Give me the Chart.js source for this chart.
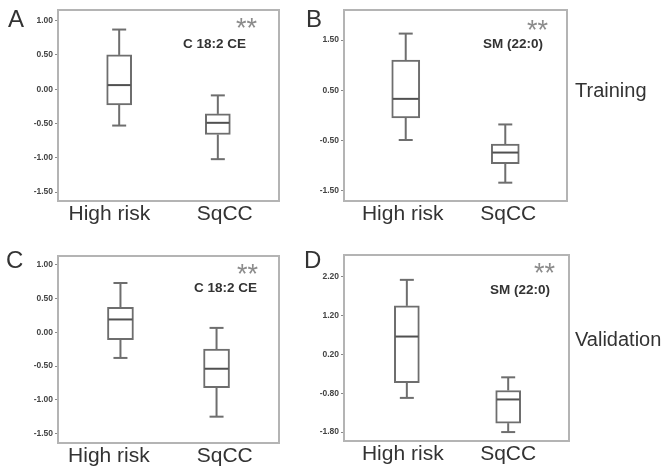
<!DOCTYPE html>
<html><head><meta charset="utf-8">
<script src="https://cdn.jsdelivr.net/npm/chart.js@4.4.1/dist/chart.umd.min.js"></script>
<style>
html,body{margin:0;padding:0;background:#fff;}
#wrap{position:relative;width:665px;height:468px;overflow:hidden;font-family:"Liberation Sans",Arial,sans-serif;}
canvas{position:absolute;left:0;top:0;}
.t{position:absolute;white-space:nowrap;line-height:1;color:#333;}
.let{font-size:24px;}
.grp{font-size:20px;}
.lab{font-size:13.5px;font-weight:bold;color:#333;}
.sig{font-size:27px;color:#8c8c8c;}
</style></head><body>
<div id="wrap">
<canvas id="cA" width="665" height="468"></canvas>
<canvas id="cB" width="665" height="468"></canvas>
<canvas id="cC" width="665" height="468"></canvas>
<canvas id="cD" width="665" height="468"></canvas>
<div class="t let" style="left:8px;top:7px">A</div>
<div class="t let" style="left:306px;top:7px">B</div>
<div class="t let" style="left:6px;top:248px">C</div>
<div class="t let" style="left:304px;top:248px">D</div>
<div class="t grp" style="left:575px;top:80px">Training</div>
<div class="t grp" style="left:575px;top:329px">Validation</div>
<div class="t lab" style="left:183px;top:37px">C 18:2 CE</div>
<div class="t lab" style="left:483px;top:37px">SM (22:0)</div>
<div class="t lab" style="left:194px;top:281px">C 18:2 CE</div>
<div class="t lab" style="left:490px;top:283px">SM (22:0)</div>
<div class="t sig" style="left:236px;top:15px">**</div>
<div class="t sig" style="left:527px;top:17px">**</div>
<div class="t sig" style="left:237px;top:261px">**</div>
<div class="t sig" style="left:534px;top:260px">**</div>
</div>
<script>
// ---- data ----
const categories = ['High risk', 'SqCC'];

// Panel A (Training, C 18:2 CE)
const aMin = [-0.53, -1.02];
const aQ1  = [-0.23, -0.66];
const aMed = [0.06, -0.49];
const aQ3  = [0.50, -0.36];
const aMax = [0.87, -0.09];
const aTicks = [1.00, 0.50, 0.00, -0.50, -1.00, -1.50];

// Panel B (Training, SM (22:0))
const bMin = [-0.49, -1.34];
const bQ1  = [-0.05, -0.96];
const bMed = [0.33, -0.74];
const bQ3  = [1.10, -0.57];
const bMax = [1.63, -0.18];
const bTicks = [1.50, 0.50, -0.50, -1.50];

// Panel C (Validation, C 18:2 CE)
const cMin = [-0.38, -1.25];
const cQ1  = [-0.11, -0.82];
const cMed = [0.19, -0.54];
const cQ3  = [0.37, -0.25];
const cMax = [0.73, 0.065];
const cTicks = [1.00, 0.50, 0.00, -0.50, -1.00, -1.50];

// Panel D (Validation, SM (22:0))
const dMin = [-0.92, -1.80];
const dQ1  = [-0.53, -1.57];
const dMed = [0.66, -0.96];
const dQ3  = [1.45, -0.73];
const dMax = [2.12, -0.39];
const dTicks = [2.20, 1.20, 0.20, -0.80, -1.80];

// ---- drawing ----
const FONT = '"Liberation Sans", Arial, sans-serif';
const BOX = '#6e6e6e';

function boxPlugin(st) {
  return {
    id: 'boxExtras',
    afterDatasetsDraw(chart) {
      const ctx = chart.ctx, ys = chart.scales.y, meta = chart.getDatasetMeta(0);
      const line = (x1, y1, x2, y2) => { ctx.beginPath(); ctx.moveTo(x1, y1); ctx.lineTo(x2, y2); ctx.stroke(); };
      ctx.save();
      ctx.lineWidth = 2;
      meta.data.forEach((el, i) => {
        const x = el.x, hw = el.width / 2, cap = 7;
        const pMax = ys.getPixelForValue(st.max[i]);
        const pQ3 = ys.getPixelForValue(st.q3[i]);
        const pQ1 = ys.getPixelForValue(st.q1[i]);
        const pMin = ys.getPixelForValue(st.min[i]);
        const pMed = ys.getPixelForValue(st.med[i]);
        ctx.strokeStyle = BOX;
        line(x, pQ3, x, pMax); line(x - cap, pMax, x + cap, pMax);
        line(x, pQ1, x, pMin); line(x - cap, pMin, x + cap, pMin);
        ctx.strokeStyle = '#505050';
        line(x - hw + 1, pMed, x + hw - 1, pMed);
      });
      const a = chart.chartArea;
      ctx.strokeStyle = '#b4b4b4';
      ctx.lineWidth = 2;
      ctx.strokeRect(a.left, a.top, a.right - a.left, a.bottom - a.top);
      ctx.restore();
    }
  };
}

function makePanel(id, st, tickVals, cfg) {
  const data = categories.map((c, i) => ({ x: i, y: [st.q1[i], st.q3[i]] }));
  new Chart(document.getElementById(id), {
    type: 'bar',
    data: {
      datasets: [{
        data: data,
        backgroundColor: '#ffffff',
        borderColor: BOX,
        borderWidth: 2,
        borderSkipped: false,
        barThickness: cfg.bar
      }]
    },
    options: {
      responsive: false,
      animation: false,
      devicePixelRatio: 1,
      layout: { padding: cfg.pad },
      plugins: { legend: { display: false }, tooltip: { enabled: false } },
      scales: {
        x: {
          type: 'linear',
          offset: false,
          min: cfg.xMin, max: cfg.xMax,
          afterBuildTicks: s => { s.ticks = cfg.labelAt.map(v => ({ value: v })); },
          afterFit: s => { s.height = cfg.xH; },
          ticks: {
            callback: (v, i) => categories[i],
            font: { family: FONT, size: 21 },
            color: '#333',
            padding: 1,
            maxRotation: 0,
            autoSkip: false
          },
          grid: { display: false, drawTicks: false, offset: false },
          border: { display: false }
        },
        y: {
          min: cfg.yMin, max: cfg.yMax,
          afterBuildTicks: s => { s.ticks = tickVals.map(v => ({ value: v })); },
          afterFit: s => { s.width = 40; },
          ticks: {
            callback: v => Number(v).toFixed(2),
            font: { family: FONT, size: 8.5, weight: 'bold' },
            color: '#444',
            padding: 2,
            autoSkip: false
          },
          grid: { drawOnChartArea: false, drawTicks: true, tickLength: 3, color: '#888' },
          border: { display: false }
        }
      }
    },
    plugins: [boxPlugin(st)]
  });
}

makePanel('cA', { min: aMin, q1: aQ1, med: aMed, q3: aQ3, max: aMax }, aTicks, {
  pad: { left: 18, right: 386, top: 10, bottom: 237 }, xH: 30,
  yMin: -1.63, yMax: 1.155, xMin: -0.62, xMax: 1.62, labelAt: [-0.10, 1.07], bar: 25
});
makePanel('cB', { min: bMin, q1: bQ1, med: bMed, q3: bQ3, max: bMax }, bTicks, {
  pad: { left: 304, right: 98, top: 10, bottom: 237 }, xH: 30,
  yMin: -1.705, yMax: 2.10, xMin: -0.62, xMax: 1.62, labelAt: [-0.03, 1.03], bar: 28
});
makePanel('cC', { min: cMin, q1: cQ1, med: cMed, q3: cQ3, max: cMax }, cTicks, {
  pad: { left: 18, right: 386, top: 256, bottom: 0 }, xH: 25,
  yMin: -1.64, yMax: 1.13, xMin: -0.65, xMax: 1.65, labelAt: [-0.12, 1.085], bar: 26
});
makePanel('cD', { min: dMin, q1: dQ1, med: dMed, q3: dQ3, max: dMax }, dTicks, {
  pad: { left: 304, right: 96, top: 255, bottom: 0 }, xH: 27,
  yMin: -2.03, yMax: 2.76, xMin: -0.62, xMax: 1.60, labelAt: [-0.04, 1.0], bar: 25
});
</script>
</body></html>
